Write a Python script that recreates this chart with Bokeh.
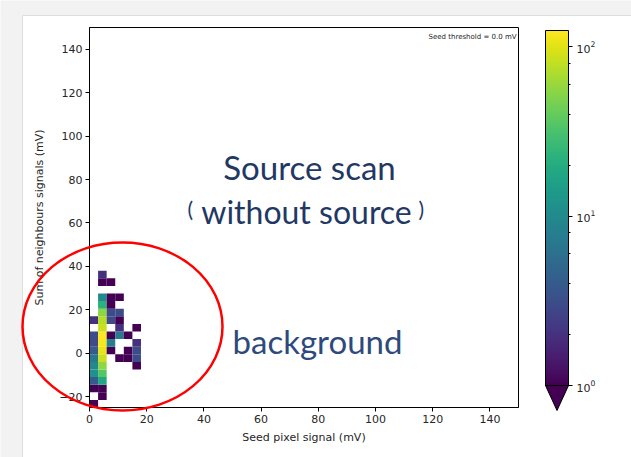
from bokeh.plotting import figure
from bokeh.models import (Range1d, FixedTicker, LogColorMapper, ColorBar, LogTicker,
                          Label, ColumnDataSource)
from bokeh.palettes import Viridis256
from bokeh.embed import file_html
from bokeh.resources import INLINE

# 2D histogram: seed pixel signal (x) vs sum of neighbour signals (y), in mV
seed_bin_edges = [0, 3, 6, 9, 12, 15, 18]
neighbour_bin_edges = [-25.0, -21.5, -18.0, -14.5, -11.0, -7.5, -4.0, -0.5, 3.0, 6.5,
                       10.0, 13.5, 17.0, 20.5, 24.0, 27.5, 31.0, 34.5, 38.0]

# entries per neighbour bin (bottom to top) for each seed bin
counts_seed_0_3 = [1, 0, 1, 4, 12, 10, 7, 4, 3, 3, 0, 2, 0, 0, 0, 0, 0, 0]
counts_seed_3_6 = [0, 1, 1, 18, 35, 55, 85, 105, 120, 125, 85, 75, 55, 22, 10, 0, 1, 2]
counts_seed_6_9 = [0, 0, 0, 0, 0, 0, 0, 1, 8, 1, 0, 3, 3, 1, 1, 0, 1, 0]
counts_seed_9_12 = [0, 0, 0, 0, 0, 0, 1, 0, 0, 7, 2, 1, 3, 0, 1, 0, 0, 0]
counts_seed_12_15 = [0, 0, 0, 0, 0, 0, 1, 1, 0, 1, 0, 0, 0, 0, 0, 0, 0, 0]
counts_seed_15_18 = [0, 0, 0, 0, 0, 1, 3, 3, 2, 0, 1, 0, 0, 0, 0, 0, 0, 0]

x_ticks = [0, 20, 40, 60, 80, 100, 120, 140]
y_ticks = [-20, 0, 20, 40, 60, 80, 100, 120, 140]

X_MIN, X_MAX, Y_MIN, Y_MAX = 0, 150, -25, 150
W, H = 631, 457
FRAME_L, FRAME_R, FRAME_T, FRAME_B = 89, 518, 27, 407


def px_x(px):
    """Canvas pixel column -> data x."""
    return X_MIN + (px - FRAME_L) / (FRAME_R - FRAME_L) * (X_MAX - X_MIN)


def px_y(py):
    """Canvas pixel row (from top) -> data y."""
    return Y_MIN + (FRAME_B - py) / (FRAME_B - FRAME_T) * (Y_MAX - Y_MIN)


columns = [counts_seed_0_3, counts_seed_3_6, counts_seed_6_9,
           counts_seed_9_12, counts_seed_12_15, counts_seed_15_18]

left, right, bottom, top, count = [], [], [], [], []
for i, col in enumerate(columns):
    for j, c in enumerate(col):
        if c > 0:
            left.append(seed_bin_edges[i])
            right.append(seed_bin_edges[i + 1])
            bottom.append(neighbour_bin_edges[j])
            top.append(neighbour_bin_edges[j + 1])
            count.append(c)

src = ColumnDataSource(dict(left=left, right=right, bottom=bottom, top=top, count=count))

mapper = LogColorMapper(palette=Viridis256, low=1, high=125)

p = figure(width=W, height=H, output_backend="svg", toolbar_location=None,
           x_range=Range1d(X_MIN, X_MAX), y_range=Range1d(Y_MIN, Y_MAX),
           min_border_left=FRAME_L, min_border_right=W - FRAME_R,
           min_border_top=FRAME_T, min_border_bottom=H - FRAME_B)
p.background_fill_color = "white"
p.border_fill_color = "white"
p.outline_line_color = "black"
p.outline_line_width = 1
p.xgrid.visible = False
p.ygrid.visible = False

p.quad(left="left", right="right", bottom="bottom", top="top", source=src,
       fill_color={"field": "count", "transform": mapper}, line_color=None)

p.xaxis.ticker = FixedTicker(ticks=x_ticks)
p.yaxis.ticker = FixedTicker(ticks=y_ticks)
p.yaxis.major_label_overrides = {-20: "\u221220"}
for ax in (p.xaxis[0], p.yaxis[0]):
    ax.axis_line_color = "black"
    ax.major_tick_line_color = "black"
    ax.minor_tick_line_color = None
    ax.major_tick_in = 0
    ax.major_tick_out = 4
    ax.major_label_standoff = 3
    ax.major_label_text_font = "DejaVu Sans"
    ax.major_label_text_font_size = "11px"
    ax.major_label_text_color = "#262626"
    ax.axis_label_text_font = "DejaVu Sans"
    ax.axis_label_text_font_size = "11px"
    ax.axis_label_text_font_style = "normal"
    ax.axis_label_text_color = "#262626"
p.xaxis.axis_label = "Seed pixel signal (mV)"
p.yaxis.axis_label = "Sum of neighbours signals (mV)"
p.xaxis.axis_label_standoff = 5
p.yaxis.axis_label_standoff = 10

cbar = ColorBar(color_mapper=mapper, ticker=LogTicker(), width=23, height=355,
                location=(456, 22), padding=0, margin=0,
                bar_line_color="black", bar_line_width=1,
                major_tick_in=0, major_tick_out=4, minor_tick_in=0, minor_tick_out=2,
                major_tick_line_color="black", minor_tick_line_color="black",
                label_standoff=4, major_label_text_font="DejaVu Sans",
                major_label_text_font_size="11px", major_label_text_color="#262626",
                background_fill_alpha=0, border_line_color=None)
p.add_layout(cbar, "center")

# slide margins (light grey L-shape around the white panel)
margin_px = [(0, 0), (W, 0), (W, 15), (22, 15), (22, H), (0, H)]
p.patch(x=[px_x(a) for a, b in margin_px], y=[px_y(b) for a, b in margin_px],
        fill_color="#f2f2f2", line_color=None, level="overlay")
edge_px = [(22, H), (22, 15), (W, 15)]
p.line(x=[px_x(a) for a, b in edge_px], y=[px_y(b) for a, b in edge_px],
       line_color="#dddddd", line_width=1, level="overlay")

# "under" extension of the colour bar; the zero-size second part keeps it in view
tri_px = [(545, 385), (568, 385), (556.5, 410)]
anchor = [X_MAX - 0.05] * 3
p.multi_polygons(xs=[[[[px_x(a) for a, b in tri_px]], [anchor]]],
                 ys=[[[[px_y(b) for a, b in tri_px]], [[Y_MAX - 0.05] * 3]]],
                 fill_color=Viridis256[0], line_color="black", line_width=1,
                 level="overlay")

p.add_layout(Label(x=516, y=36, x_units="canvas", y_units="canvas",
                   text="Seed threshold = 0.0 mV", text_align="right",
                   text_baseline="alphabetic", text_font="DejaVu Sans",
                   text_font_size="7px", text_color="#262626"))

navy = "#1f3864"
p.add_layout(Label(x=309, y=166, x_units="canvas", y_units="canvas",
                   text="Source scan", text_align="center", text_baseline="alphabetic",
                   text_font="Lato", text_font_size="33px", text_color=navy))
p.add_layout(Label(x=187, y=208, x_units="canvas", y_units="canvas",
                   text="(", text_align="left", text_baseline="alphabetic",
                   text_font="Lato", text_font_size="21px", text_color=navy))
p.add_layout(Label(x=306, y=211, x_units="canvas", y_units="canvas",
                   text="without source", text_align="center", text_baseline="alphabetic",
                   text_font="Lato", text_font_size="32px", text_color=navy))
p.add_layout(Label(x=418, y=208, x_units="canvas", y_units="canvas",
                   text=")", text_align="left", text_baseline="alphabetic",
                   text_font="Lato", text_font_size="21px", text_color=navy))
p.add_layout(Label(x=317, y=340, x_units="canvas", y_units="canvas",
                   text="background", text_align="center", text_baseline="alphabetic",
                   text_font="Lato", text_font_size="33px", text_color="#2e4a7c"))

# red ring highlighting the background population
p.ellipse(x=[px_x(122)], y=[px_y(326)], width=200, height=168, width_units="screen",
          height_units="screen", fill_alpha=0, line_color="#ff0000", line_width=2.5,
          level="overlay")

open("out.html", "w").write(file_html(p, INLINE))
